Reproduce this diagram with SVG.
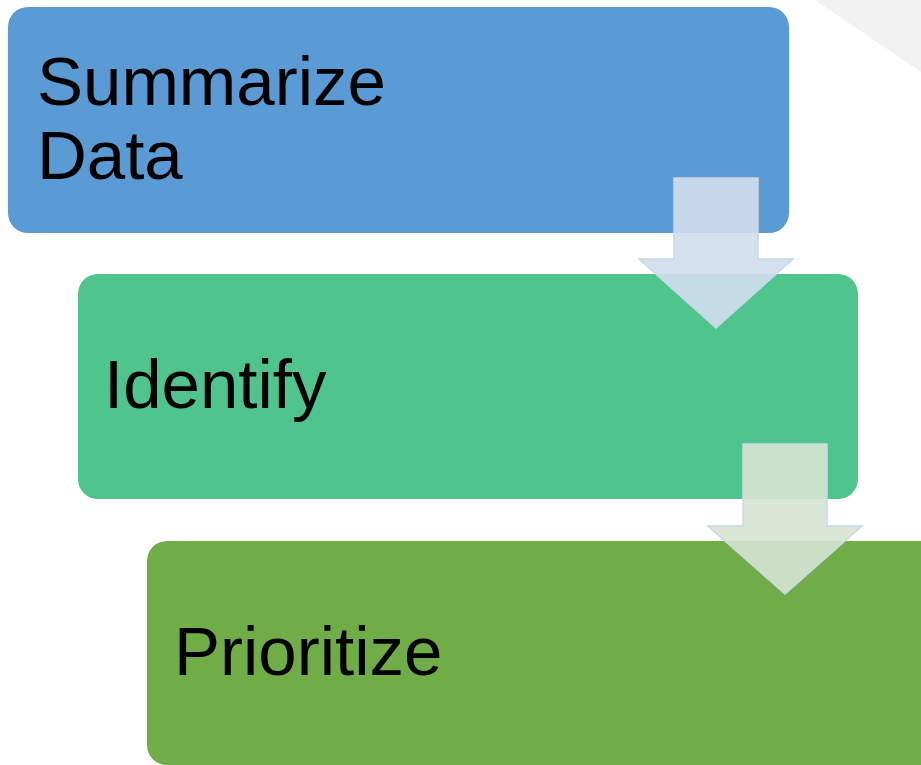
<svg xmlns="http://www.w3.org/2000/svg" width="921" height="765" viewBox="0 0 921 765">
  <style>
    .lbl { font-family: "Liberation Sans", Arial, sans-serif; font-size: 69px; fill: #000000; }
    .arrow { stroke: #C9D7EA; stroke-width: 1.5; }
  </style>
  <rect width="921" height="765" fill="#FFFFFF"/>
  <polygon points="815,0 921,0 921,72" fill="#F2F2F2"/>
  <g id="node-summarize">
    <rect x="8" y="7" width="781" height="226" rx="20" ry="20" fill="#5B9BD5"/>
    <text class="lbl" x="37" y="105">Summarize</text>
    <text class="lbl" x="37" y="179">Data</text>
  </g>
  <g id="node-identify">
    <rect x="78" y="274" width="780" height="225" rx="20" ry="20" fill="#4FC48C"/>
    <text class="lbl" x="104" y="408">Identify</text>
  </g>
  <g id="node-prioritize">
    <rect x="147" y="541" width="800" height="224" rx="20" ry="20" fill="#70AD47"/>
    <text class="lbl" x="174" y="675">Prioritize</text>
  </g>
  <g id="connectors">
    <polygon class="arrow" points="674,178 758,178 758,259 793,259 716,328 639,259 674,259" fill="#D2DEEE" fill-opacity="0.9"/>
    <polygon class="arrow" points="743,444 827,444 827,526 862,526 785,594 708,526 743,526" fill="#D6E4D2" fill-opacity="0.9"/>
  </g>
</svg>
